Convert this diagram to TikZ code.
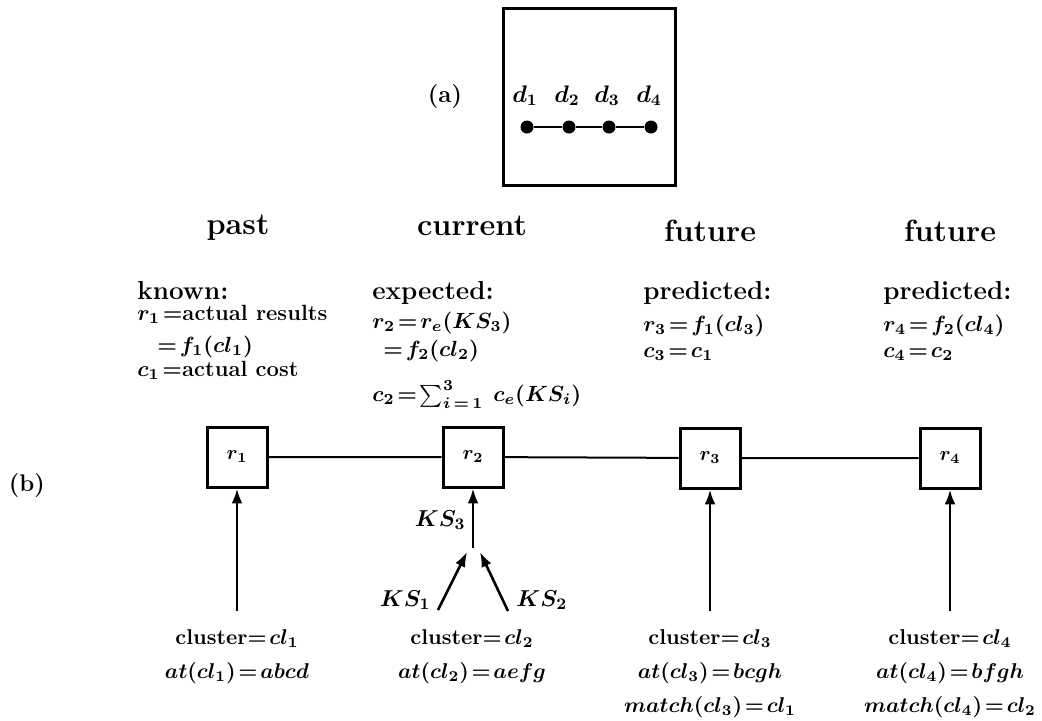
\documentclass[tikz,border=0pt]{standalone}
\usepackage{fix-cm}
\usepackage{amsmath}
\usetikzlibrary{arrows.meta}
\thickmuskip=2mu
\lineskiplimit=-\maxdimen

\begin{document}
\begin{tikzpicture}[x=0.5pt, y=-0.5pt, >={Latex[length=2.6mm,width=1.9mm]},
  rbox/.style={draw, line width=1.5pt, minimum size=30pt, inner sep=0pt,
    font=\fontsize{10}{12}\selectfont\boldmath},
  dot/.style={circle, fill, inner sep=0pt, minimum size=6.5pt},
  head/.style={anchor=base, inner sep=0pt, font=\fontsize{15.3}{18}\selectfont\bfseries},
  info/.style={align=left, anchor=north west, inner sep=0pt,
    font=\fontsize{11}{12}\selectfont\bfseries\boldmath},
  base/.style={align=center, anchor=north, inner sep=0pt,
    font=\fontsize{10.7}{17}\selectfont\bfseries\boldmath},
  kslab/.style={inner sep=0pt, font=\fontsize{11.5}{14}\selectfont\boldmath},
  tag/.style={inner sep=0pt, font=\fontsize{12}{14}\selectfont\bfseries},
  link/.style={line width=1pt},
  feed/.style={->, line width=1.3pt}]
  \useasboundingbox (0,0) rectangle (1042,720);

  % (a) the chain of documents
  \node[tag] (taga) at (445,97) {(a)};
  \node[draw, line width=1.5pt, minimum width=86pt, minimum height=88.5pt] (frame) at (589.5,97) {};
  \foreach \i/\x in {1/527,2/569,3/609,4/651}{
    \node[dot] (d\i) at (\x,127) {};
    \node[anchor=base, inner sep=0pt, font=\fontsize{12}{14}\selectfont\boldmath] (dl\i) at (\x-2,102) {$d_\i$};
  }
  \draw[line width=1.2pt] (d1) -- (d2) -- (d3) -- (d4);

  % (b) headings
  \node[tag] (tagb) at (27,485) {(b)};
  \node[head] (hpast) at (238,234) {past};
  \node[head] (hcur) at (472,235) {current};
  \node[head] (hfut1) at (710,241) {future};
  \node[head] (hfut2) at (950,241) {future};

  % what is known / expected / predicted
  \node[info] (known) at (137,281) {{\fontsize{13}{15}\selectfont known:}\\[-1.5pt]
    $r_1=$actual results\\[4pt]
    \hspace*{10pt}$=f_1(cl_1)$\\[0pt]
    $c_1=$actual cost};
  \node[info] (expect) at (372,281) {{\fontsize{13}{15}\selectfont expected:}\\[2.5pt]
    $r_2=r_e(KS_3)$\\[2pt]
    \hspace*{5.5pt}$=f_2(cl_2)$\\[10.5pt]
    $c_2=\sum_{i\,=\,1}^{3}\;\; c_e(KS_i)$};
  \node[info] (pred3) at (643,281) {{\fontsize{13}{15}\selectfont predicted:}\\[4pt]
    $r_3=f_1(cl_3)$\\[1pt]
    $c_3=c_1$};
  \node[info] (pred4) at (883,281) {{\fontsize{13}{15}\selectfont predicted:}\\[4pt]
    $r_4=f_2(cl_4)$\\[1pt]
    $c_4=c_2$};

  % results
  \node[rbox] (r1) at (237,457) {$r_1$};
  \node[rbox] (r2) at (473,457) {$r_2$};
  \node[rbox] (r3) at (710,458) {$r_3$};
  \node[rbox] (r4) at (950,458) {$r_4$};
  \draw[link] (r1) -- (r2) -- (r3) -- (r4);

  % clusters
  \node[base] (cl1) at (237,629) {cluster$=cl_1$\\ $at(cl_1)=abcd$};
  \node[base] (cl2) at (472,629) {cluster$=cl_2$\\ $at(cl_2)=aefg$};
  \node[base] (cl3) at (710,629) {cluster$=cl_3$\\ $at(cl_3)=bcgh$\\ $match(cl_3)=cl_1$};
  \node[base] (cl4) at (950,629) {cluster$=cl_4$\\ $at(cl_4)=bfgh$\\ $match(cl_4)=cl_2$};

  \draw[feed] ([yshift=9pt]cl1.north) -- (r1);
  \draw[feed] ([yshift=9pt]cl3.north) -- (r3);
  \draw[feed] ([yshift=9pt]cl4.north) -- (r4);

  % knowledge sources for r2
  \coordinate (join) at (473,548);
  \coordinate (ks1) at (438,610);
  \coordinate (ks2) at (508,611);
  \coordinate (in1) at (467,552);
  \coordinate (in2) at (480,552);
  \draw[feed] (join) -- (r2);
  \draw[feed] (ks1) -- (in1);
  \draw[feed] (ks2) -- (in2);
  \node[kslab, anchor=east] (lks3) at (466,520) {$KS_3$};
  \node[kslab, anchor=east] (lks1) at (431,600) {$KS_1$};
  \node[kslab, anchor=west] (lks2) at (516,600) {$KS_2$};
\end{tikzpicture}
\end{document}
